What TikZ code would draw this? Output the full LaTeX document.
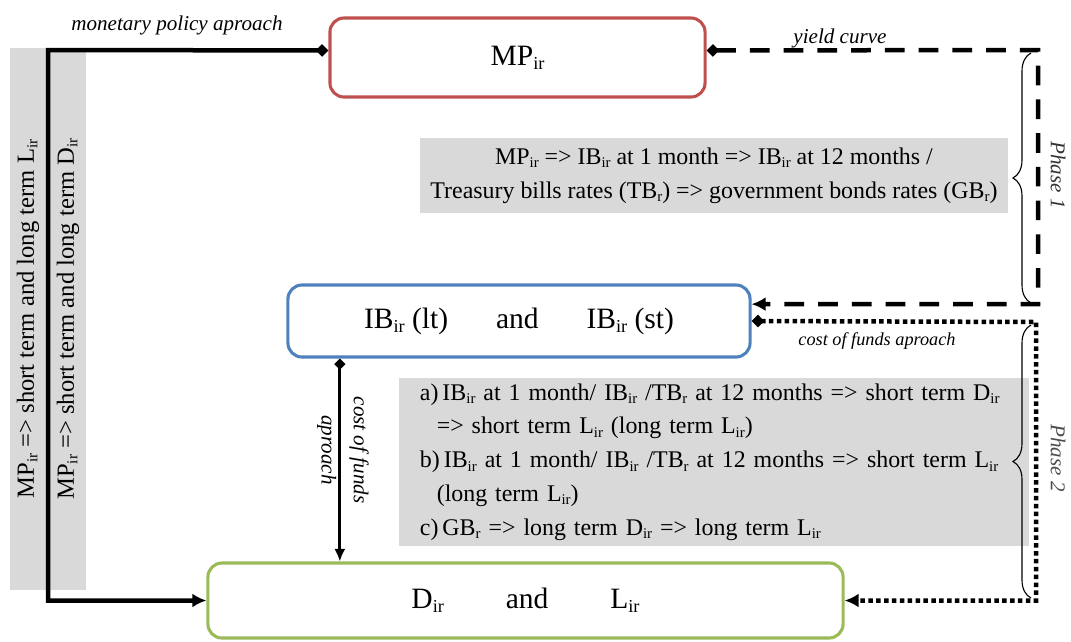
\documentclass[tikz,border=0pt]{standalone}
\usepackage{fontspec}
\setmainfont{Liberation Serif}
\usetikzlibrary{arrows.meta,decorations.pathreplacing}
\newcommand{\sbx}[1]{\raisebox{-0.3ex}{\scalebox{0.62}{#1}}}
\newcommand{\sir}{\sbx{ir}}
\newcommand{\sr}{\sbx{r}}
\definecolor{mpred}{HTML}{C0504D}
\definecolor{ibblue}{HTML}{4F81BD}
\definecolor{dlgreen}{HTML}{9BBB59}
\definecolor{notegray}{HTML}{D9D9D9}
\begin{document}
\begin{tikzpicture}[x=0.025cm,y=-0.025cm]
        \tikzstyle{ratebox}=[draw,rounded corners=10pt,line width=2.2pt,fill=white,font=\fontsize{21}{25}\selectfont];
        \tikzstyle{note}=[fill=notegray,font=\fontsize{17}{24}\selectfont];
        \tikzstyle{lab}=[font=\itshape\fontsize{15}{23}\selectfont];
        \tikzstyle{policy}=[line width=3.2pt,{Diamond[length=9pt,width=9pt]}-{Latex[length=10pt,width=10pt]}];
        \tikzstyle{yield}=[policy,dash pattern=on 14pt off 10pt];
        \tikzstyle{funds}=[policy,dash pattern=on 3.2pt off 2.4pt];
        \tikzstyle{down}=[line width=2pt,{Diamond[length=8pt,width=8pt]}-{Latex[length=9pt,width=8pt]}];
        \tikzstyle{phase}=[decorate,decoration={brace,amplitude=0.45cm},line width=0.8pt];
        \useasboundingbox (0,0) rectangle (1071,641);
        %\node (name) at (x,y) [style] {text};
        \fill[notegray] (10,48) rectangle (86,590);
        \node (lir) at (28,319) [rotate=90,font=\fontsize{17.5}{20}\selectfont] {MP\sir{} => short term and long term L\sir};
        \node (dir) at (68,319) [rotate=90,font=\fontsize{17.5}{20}\selectfont] {MP\sir{} => short term and long term D\sir};
        \node (mp) at (517.5,57.5) [ratebox,draw=mpred,minimum width=9.375cm,minimum height=1.975cm] {MP\sir};
        \node (ib) at (519,321) [ratebox,draw=ibblue,minimum width=11.55cm,minimum height=1.8cm] {IB\sir{} (lt)\hspace{34pt}and\hspace{34pt}IB\sir{} (st)};
        \node (dl) at (525.5,600.5) [ratebox,draw=dlgreen,minimum width=15.875cm,minimum height=1.875cm] {D\sir\hspace{44pt}and\hspace{44pt}L\sir};
        \node (notea) at (714,175.5) [note,minimum width=14.7cm,minimum height=1.875cm,align=center] {MP\sir{} => IB\sir{} at 1 month => IB\sir{} at 12 months /\\Treasury bills rates (TB\sr) => government bonds rates (GB\sr)};
        \node (noteb) at (714,462) [note,minimum width=15.75cm,minimum height=4.2cm,text width=14.7cm,inner xsep=0.525cm,align=left] {a)\,IB\sir{} at 1 month/ IB\sir{} /TB\sr{} at 12 months => short term D\sir\\
        \hspace*{12pt}=> short term L\sir{} (long term L\sir)\\
        b)\,IB\sir{} at 1 month/ IB\sir{} /TB\sr{} at 12 months => short term L\sir\\
        \hspace*{12pt}(long term L\sir)\\
        c)\,GB\sr{} => long term D\sir{} => long term L\sir};
        \node (monlab) at (177,25) [lab] {monetary policy aproach};
        \node (yieldlab) at (840,38) [lab] {yield curve};
        \node (fundslab) at (877,341) [lab,font=\itshape\fontsize{13}{15}\selectfont] {cost of funds aproach};
        \node (downlab) at (343,450) [lab,rotate=-90,align=center] {cost of funds\\aproach};
        \node (phaseone) at (1058,175) [lab,rotate=-90,text=black!80] {Phase 1};
        \node (phasetwo) at (1058,458) [lab,rotate=-90,text=black!70] {Phase 2};
        %\draw [option] ...
        \coordinate (ltop) at (48,50);
        \coordinate (rtop) at (1038,50);
        \coordinate (rmid) at (1036,322);
        \coordinate (ibfoot) at ([xshift=38pt]ib.south west);
        \draw[policy] ([yshift=5pt]mp.west)--(ltop)|-(dl.west);
        \draw[yield] ([yshift=5pt]mp.east)--(rtop)|-([yshift=12pt]ib.east);
        \draw[funds] (ib.east)--(rmid)|-(dl.east);
        \draw[down] (ibfoot)--(ibfoot|-dl.north);
        \draw[phase] (1031,303)--(1031,53);
        \draw[phase] (1031,598)--(1031,325);
\end{tikzpicture}
\end{document}
